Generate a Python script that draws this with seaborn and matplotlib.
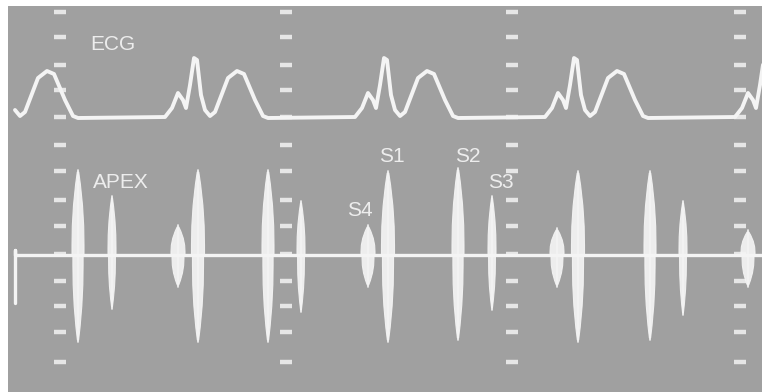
import matplotlib
matplotlib.use("Agg")
import matplotlib.pyplot as plt
import seaborn as sns
import pandas as pd

# ---- data (time in display samples, amplitude in trace units, up = positive) ----
# ECG: beat onsets and one beat's waveform (offset from onset, height above baseline)
beat_onsets = [-25, 165, 355, 545, 735]
ecg_beat_dt = [0, 7, 13, 18, 21, 25, 29, 32, 36, 40, 45, 50, 63, 72, 79, 90, 98, 103]
ecg_beat_amp = [0, 9, 24, 17, 9, 32, 59, 57, 22, 7, 1, 5, 39, 46, 43, 17, 1, -1]
ecg_t_start = 15

# APEX phonocardiogram: heart sounds
sound_names = ["S2", "S3", "S4", "S1", "S2", "S3", "S4", "S1",
               "S2", "S3", "S4", "S1", "S2", "S3", "S4"]
sound_t = [78, 112, 178, 198, 268, 301, 368, 388, 458, 492, 557, 578, 650, 683, 748]
sound_up = [83, 57, 28, 83, 83, 52, 28, 82, 85, 57, 25, 82, 82, 52, 23]
sound_down = [85, 52, 30, 85, 85, 55, 30, 85, 83, 53, 30, 85, 83, 58, 30]
apex_t_start = 15
apex_t_end = 770
apex_cal_up = 5
apex_cal_down = 48

# timing marks
mark_cols = [60, 286, 512, 740]
mark_rows = [380, 355, 327, 302, 275, 247, 221, 192, 166, 138, 111, 86, 60, 30]

# labels
labels = ["ECG", "APEX", "S1", "S2", "S3", "S4"]
label_t = [113, 121, 392, 468, 501, 360]
label_y = [347, 209, 235, 235, 210, 182]

# ---- layout / style ----
ECG_BASE = 275
APEX_BASE = 137
BG = "#a0a0a0"
TRACE = "#f4f4f4"
MARK = "#e6e6e6"
half_width = {"S1": 6.5, "S2": 6.0, "S3": 4.0, "S4": 7.0}

sns.set_theme(style="white")
plt.rcParams["font.family"] = ["Liberation Sans", "DejaVu Sans"]

fig = plt.figure(figsize=(7.62, 3.92), dpi=100)
fig.patch.set_facecolor("white")
ax = fig.add_axes([8 / 762, 0, 754 / 762, 386 / 392])
ax.set_xlim(8, 762)
ax.set_ylim(0, 386)
ax.set_axis_off()
ax.add_patch(plt.Rectangle((0, 0), 1, 1, transform=ax.transAxes,
                           color=BG, zorder=0))

# timing marks
for c in mark_cols:
    ax.plot([c] * len(mark_rows), mark_rows, ls="none", marker="_",
            ms=8, mew=3.2, color=MARK, zorder=1)

# ECG trace
ecg_t, ecg_y = [], []
for onset in beat_onsets:
    for dt, a in zip(ecg_beat_dt, ecg_beat_amp):
        if onset + dt >= ecg_t_start:
            ecg_t.append(onset + dt)
            ecg_y.append(ECG_BASE + a)
ecg = pd.DataFrame({"t": ecg_t, "y": ecg_y})
sns.lineplot(data=ecg, x="t", y="y", sort=False, estimator=None, ax=ax,
             color=TRACE, lw=2.8, solid_joinstyle="round",
             solid_capstyle="round", zorder=3)

# APEX baseline and calibration step
apex = pd.DataFrame({"t": [apex_t_start, apex_t_start, apex_t_start, apex_t_end],
                     "y": [APEX_BASE - apex_cal_down, APEX_BASE + apex_cal_up,
                           APEX_BASE, APEX_BASE]})
sns.lineplot(data=apex, x="t", y="y", sort=False, estimator=None, ax=ax,
             color=TRACE, lw=2.4, zorder=3)

# heart sound bursts as spindles around the baseline
levels = [1.0, 0.85, 0.6, 0.35, 0.12, 0.0]
widths = [0.12, 0.4, 0.75, 0.95, 1.0, 1.0]
for name, t, up, dn in zip(sound_names, sound_t, sound_up, sound_down):
    hw = half_width[name]
    xs, ys = [], []
    for lv, w in zip(levels, widths):
        xs.append(t + hw * w); ys.append(APEX_BASE + up * lv)
    for lv, w in zip(levels[::-1], widths[::-1]):
        xs.append(t + hw * w * 0.85); ys.append(APEX_BASE - dn * lv)
    for lv, w in zip(levels, widths):
        xs.append(t - hw * w * 0.85); ys.append(APEX_BASE - dn * lv)
    for lv, w in zip(levels[::-1], widths[::-1]):
        xs.append(t - hw * w); ys.append(APEX_BASE + up * lv)
    ax.fill(xs, ys, color=TRACE, alpha=0.92, lw=0.8, ec=TRACE, zorder=4)
    ax.plot([t, t], [APEX_BASE - dn - 2, APEX_BASE + up + 2], color=TRACE,
            lw=1.2, zorder=4)

for s, t, y in zip(labels, label_t, label_y):
    ax.text(t, y, s, color="#ededed", fontsize=15, ha="center", va="center",
            zorder=5)

fig.savefig("out.png", dpi=100, facecolor="white")
